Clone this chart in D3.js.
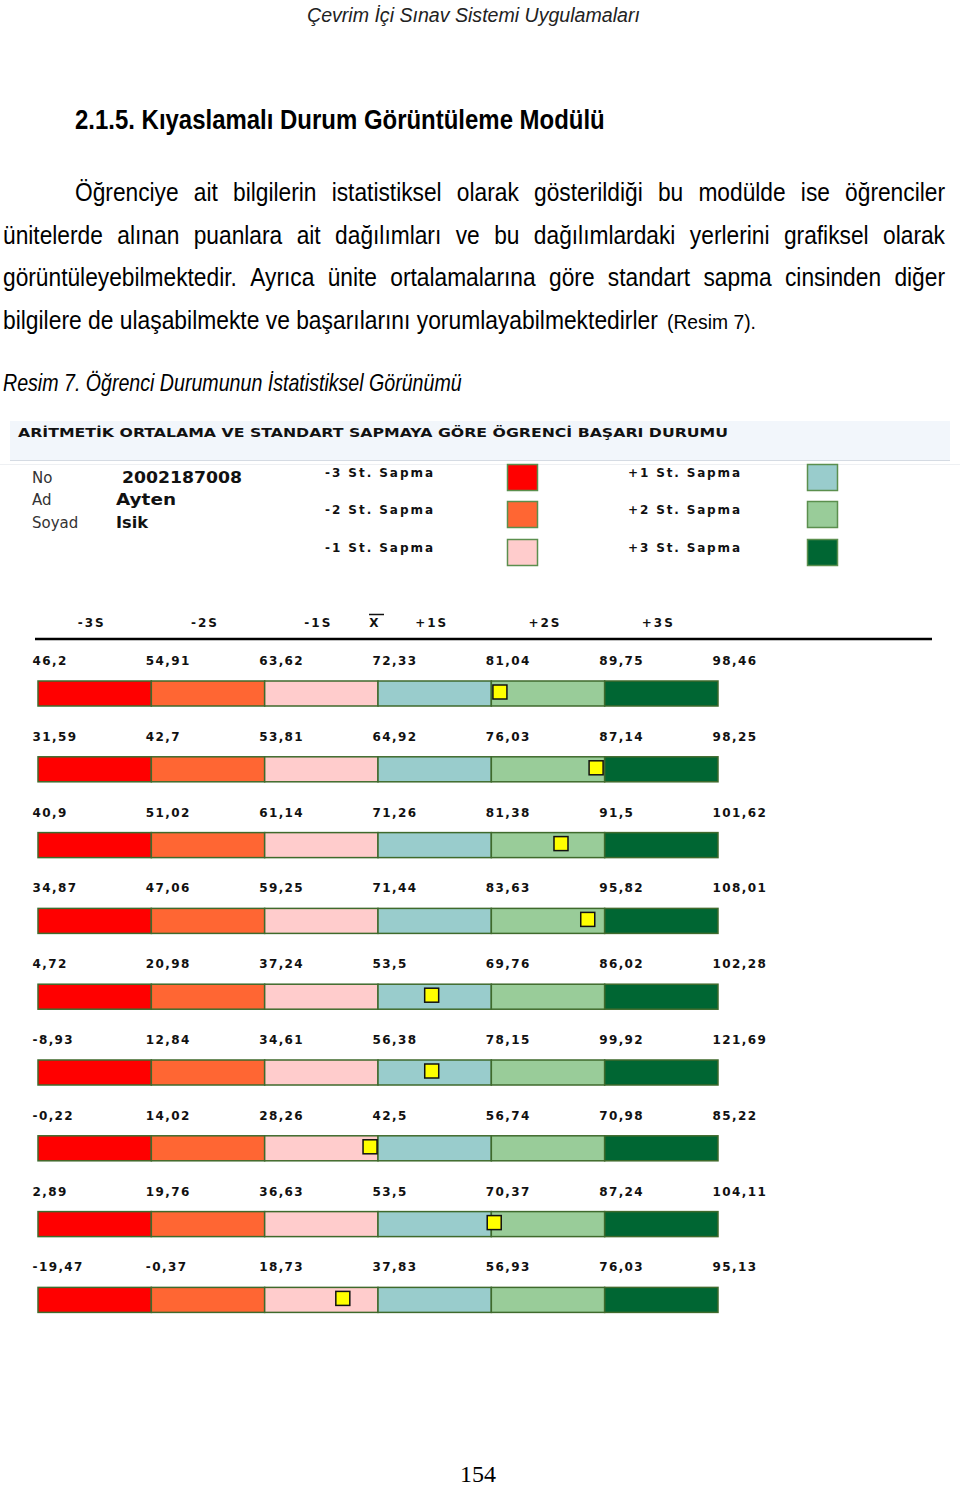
<!DOCTYPE html>
<html><head><meta charset="utf-8">
<script src="https://cdn.jsdelivr.net/npm/d3@7"></script>
<style>body{margin:0;background:#fff}svg{display:block}</style>
</head><body><svg id="c" width="960" height="1486"></svg>
<script>
// ---- data ----
const unitBounds1 = [46.2, 54.91, 63.62, 72.33, 81.04, 89.75, 98.46];
const unitBounds2 = [31.59, 42.7, 53.81, 64.92, 76.03, 87.14, 98.25];
const unitBounds3 = [40.9, 51.02, 61.14, 71.26, 81.38, 91.5, 101.62];
const unitBounds4 = [34.87, 47.06, 59.25, 71.44, 83.63, 95.82, 108.01];
const unitBounds5 = [4.72, 20.98, 37.24, 53.5, 69.76, 86.02, 102.28];
const unitBounds6 = [-8.93, 12.84, 34.61, 56.38, 78.15, 99.92, 121.69];
const unitBounds7 = [-0.22, 14.02, 28.26, 42.5, 56.74, 70.98, 85.22];
const unitBounds8 = [2.89, 19.76, 36.63, 53.5, 70.37, 87.24, 104.11];
const unitBounds9 = [-19.47, -0.37, 18.73, 37.83, 56.93, 76.03, 95.13];
const unitBounds = [unitBounds1, unitBounds2, unitBounds3, unitBounds4, unitBounds5, unitBounds6, unitBounds7, unitBounds8, unitBounds9];
const studentScores = [81.7, 86.3, 87.6, 94.0, 61.2, 66.7, 41.5, 70.8, 31.9];
const sigmaLabels = ["-3S", "-2S", "-1S", "X", "+1S", "+2S", "+3S"];
const sigmaPositions = [-2.5, -1.5, -0.5, 0, 0.5, 1.5, 2.5];
const legendLabels = ["-3 St. Sapma", "-2 St. Sapma", "-1 St. Sapma", "+1 St. Sapma", "+2 St. Sapma", "+3 St. Sapma"];
const segmentColors = ["#ff0000", "#ff6633", "#ffcccc", "#99cccc", "#99cc99", "#006633"];
const studentInfo = [["No", "2002187008"], ["Ad", "Ayten"], ["Soyad", "Isik"]];

const svg = d3.select("#c");
const SANS = "'Liberation Sans',Arial,sans-serif";
const PIX = "'DejaVu Sans',Verdana,sans-serif";

// helper: text squeezed horizontally (Arial Narrow look) via transform
function narrowText(sel, x, y, str, size, opts = {}) {
  const t = sel.append("text").attr("x", 0).attr("y", 0).attr("font-family", SANS)
    .attr("font-size", size).attr("fill", opts.fill || "#000").text(str);
  if (opts.bold) t.attr("font-weight", "bold");
  if (opts.italic) t.attr("font-style", "italic");
  const nat = t.node().getComputedTextLength();
  const w = opts.width || nat * (opts.k || 0.82);
  const k = w / nat;
  const place = nx => t.attr("transform", `translate(${nx},${y}) scale(${k},1)`);
  place(x);
  return {t, w, place};
}

// ---- page text ----
narrowText(svg, 307, 22, "Çevrim İçi Sınav Sistemi Uygulamaları", 21, {italic: true, width: 333, fill: "#222"});
narrowText(svg, 75, 129, "2.1.5. Kıyaslamalı Durum Görüntüleme Modülü", 27, {bold: true, width: 530});

const paraLines = [
  {x0: 75, x1: 945, y: 201, t: "Öğrenciye ait bilgilerin istatistiksel olarak gösterildiği bu modülde ise öğrenciler"},
  {x0: 3, x1: 945, y: 244, t: "ünitelerde alınan puanlara ait dağılımları ve bu dağılımlardaki yerlerini grafiksel olarak"},
  {x0: 3, x1: 945, y: 286, t: "görüntüleyebilmektedir. Ayrıca ünite ortalamalarına göre standart sapma cinsinden diğer"}
];
paraLines.forEach(L => {
  const words = L.t.split(" ");
  const g = svg.append("g");
  const items = words.map(w => narrowText(g, 0, L.y, w, 25, {k: 0.91}));
  const total = d3.sum(items, d => d.w);
  const gap = (L.x1 - L.x0 - total) / (words.length - 1);
  let x = L.x0;
  items.forEach(d => { d.place(x); x += d.w + gap; });
});
narrowText(svg, 3, 329, "bilgilere de ulaşabilmekte ve başarılarını yorumlayabilmektedirler", 25, {width: 655});
narrowText(svg, 667, 329, "(Resim 7).", 21, {width: 89});

narrowText(svg, 3, 391, "Resim 7. Öğrenci Durumunun İstatistiksel Görünümü", 23, {italic: true, width: 459});

svg.append("text").attr("x", 478).attr("y", 1482).attr("text-anchor", "middle")
  .attr("font-family", "'Liberation Serif','Times New Roman',serif").attr("font-size", 24).attr("fill", "#000")
  .text("154");

// ---- screenshot panel ----
svg.append("rect").attr("x", 10).attr("y", 421).attr("width", 940).attr("height", 39).attr("fill", "#f2f6fb");
svg.append("line").attr("x1", 10).attr("x2", 950).attr("y1", 460.5).attr("y2", 460.5).attr("stroke", "#d5dbe3");
svg.append("line").attr("x1", 0).attr("x2", 960).attr("y1", 464.5).attr("y2", 464.5).attr("stroke", "#eef0f3");
svg.append("text").attr("x", 18).attr("y", 437).attr("font-family", PIX).attr("font-weight", "bold")
  .attr("font-size", 12).attr("fill", "#111").attr("textLength", 710).attr("lengthAdjust", "spacingAndGlyphs")
  .text("ARİTMETİK ORTALAMA VE STANDART SAPMAYA GÖRE ÖGRENCİ BAŞARI DURUMU");

// student info
const infoY = [483, 505, 528];
const infoW = [120, 60, 32];
studentInfo.forEach((d, i) => {
  svg.append("text").attr("x", 32).attr("y", infoY[i]).attr("font-family", PIX).attr("font-size", 15)
    .attr("fill", "#333").text(d[0]);
  svg.append("text").attr("x", i === 0 ? 122 : 116).attr("y", infoY[i]).attr("font-family", PIX)
    .attr("font-weight", "bold").attr("font-size", 16).attr("fill", "#111")
    .attr("textLength", infoW[i]).attr("lengthAdjust", "spacingAndGlyphs").text(d[1]);
});

// legend
const legY = [464, 501, 539];
legendLabels.forEach((lab, i) => {
  const col = i < 3 ? 0 : 1, r = i % 3;
  const tx = col === 0 ? 325 : 628, sx = col === 0 ? 507 : 807;
  svg.append("text").attr("x", tx).attr("y", legY[r] + 13).attr("font-family", PIX).attr("font-weight", "bold")
    .attr("font-size", 12).attr("fill", "#111").attr("textLength", col === 0 ? 108 : 112)
    .attr("lengthAdjust", "spacing").text(lab);
  svg.append("rect").attr("x", sx + 0.5).attr("y", legY[r] + 0.5).attr("width", 30).attr("height", 26)
    .attr("fill", segmentColors[i]).attr("stroke", "#5b8f4e").attr("stroke-width", 1.5);
});

// ---- sigma header ----
const z = d3.scaleLinear().domain([-3, 3]).range([38, 718]);
sigmaLabels.forEach((s, i) => {
  svg.append("text").attr("x", z(sigmaPositions[i]) - 3).attr("y", 627).attr("text-anchor", "middle")
    .attr("font-family", PIX).attr("font-weight", "bold").attr("font-size", 12).attr("letter-spacing", 2)
    .attr("fill", "#111").text(s);
  if (s === "X") {
    svg.append("line").attr("x1", z(0) - 9).attr("x2", z(0) + 6).attr("y1", 614.5).attr("y2", 614.5)
      .attr("stroke", "#111").attr("stroke-width", 1.5);
  }
});
svg.append("line").attr("x1", 35).attr("x2", 932).attr("y1", 639).attr("y2", 639)
  .attr("stroke", "#000").attr("stroke-width", 2.5);

// ---- bars ----
const fmt = v => String(v).replace(".", ",");
unitBounds.forEach((b, i) => {
  const top = 681 + i * 75.8;
  const x = d3.scaleLinear().domain([b[0], b[6]]).range([38, 718]);
  const g = svg.append("g");
  const ax = g.append("g").attr("transform", `translate(0,${top - 16})`)
    .call(d3.axisTop(x).tickValues(b).tickFormat(fmt).tickSize(0).tickPadding(0));
  ax.select(".domain").remove();
  ax.attr("font-family", PIX).attr("font-size", 12).attr("font-weight", "bold");
  ax.selectAll("text").attr("text-anchor", "start").attr("dx", -6).attr("dy", 0)
    .attr("letter-spacing", 1.4).attr("fill", "#111");
  g.selectAll("rect.seg").data(d3.range(6)).join("rect").attr("class", "seg")
    .attr("x", k => x(b[k])).attr("y", top).attr("width", k => x(b[k + 1]) - x(b[k])).attr("height", 25)
    .attr("fill", k => segmentColors[k]).attr("stroke", "#3f6a2c").attr("stroke-width", 1.5);
  g.append("rect").attr("x", x(studentScores[i]) - 7).attr("y", top + 4).attr("width", 14).attr("height", 14)
    .attr("fill", "#ffff00").attr("stroke", "#111").attr("stroke-width", 1.5);
});
</script></body></html>
